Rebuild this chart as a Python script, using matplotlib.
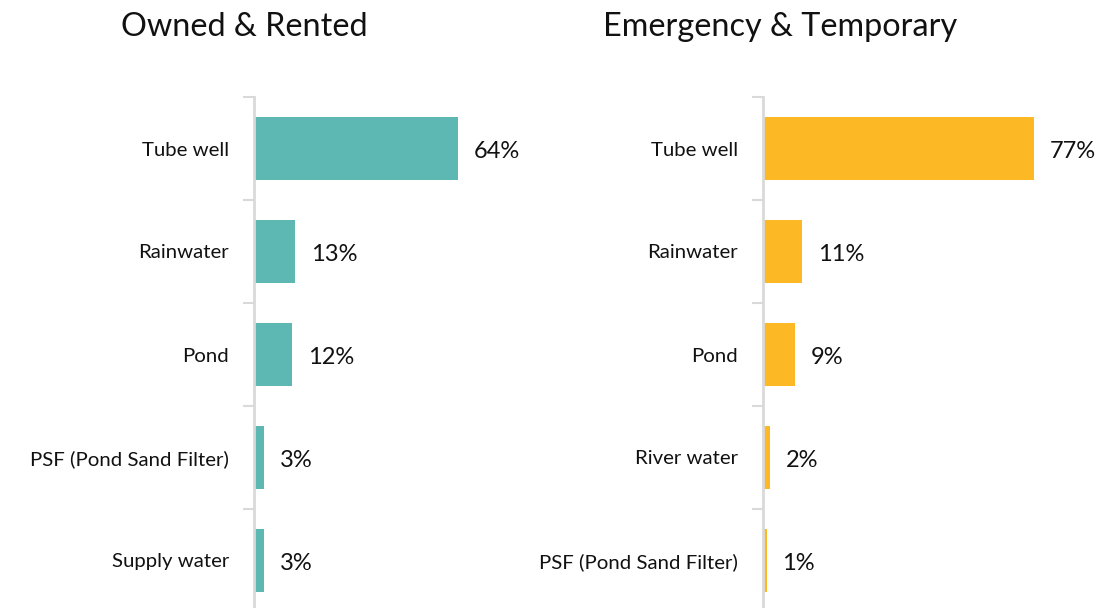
import matplotlib
matplotlib.use("Agg")
import matplotlib.pyplot as plt
import numpy as np

left_title = "Owned & Rented"
left_cats = ["Tube well", "Rainwater", "Pond", "PSF (Pond Sand Filter)", "Supply water"]
left_vals = [64, 13, 12, 3, 3]

right_title = "Emergency & Temporary"
right_cats = ["Tube well", "Rainwater", "Pond", "River water", "PSF (Pond Sand Filter)"]
right_vals = [77, 11, 9, 2, 1]

plt.rcParams['font.family'] = ['Lato', 'DejaVu Sans']

W, H = 1102, 608
fig = plt.figure(figsize=(W / 100, H / 100), dpi=100)

def px_axes(x0, x1, y0, y1):
    return fig.add_axes([x0 / W, (H - y1) / H, (x1 - x0) / W, (y1 - y0) / H])

spine_col = "#d9d9d9"

def panel(ax, cats, vals, color, px_per_unit, width_px):
    n = len(cats)
    y = np.arange(n)
    ax.barh(y, vals, height=0.62, color=color)
    ax.set_ylim(n - 0.5, -0.5)
    ax.set_xlim(0, width_px / px_per_unit)
    ax.set_yticks(y)
    ax.set_yticklabels(cats, fontsize=14.7, color="#111111")
    ax.tick_params(axis='y', which='major', length=0, pad=18)
    ax.set_yticks(np.arange(n + 1) - 0.5, minor=True)
    ax.tick_params(axis='y', which='minor', length=8, width=1.5, color=spine_col)
    ax.set_xticks([])
    for s in ["top", "right", "bottom"]:
        ax.spines[s].set_visible(False)
    ax.spines["left"].set_color(spine_col)
    ax.spines["left"].set_linewidth(2)
    for yi, v in zip(y, vals):
        ax.annotate(f"{v}%", (v, yi), xytext=(11.5, -2), textcoords="offset points",
                    va="center", ha="left", fontsize=17, color="#111111")

ax1 = px_axes(254, 560, 97, 612)
panel(ax1, left_cats, left_vals, "#5DB8B3", 3.19, 306)
ax2 = px_axes(763, 1090, 97, 612)
panel(ax2, right_cats, right_vals, "#FDB825", 3.52, 327)

fig.text(244 / W, 1 - 27 / H, left_title, ha="center", va="center", fontsize=23.3, color="#111111")
fig.text(780 / W, 1 - 27 / H, right_title, ha="center", va="center", fontsize=23.3, color="#111111")

fig.savefig("out.png", dpi=100)
